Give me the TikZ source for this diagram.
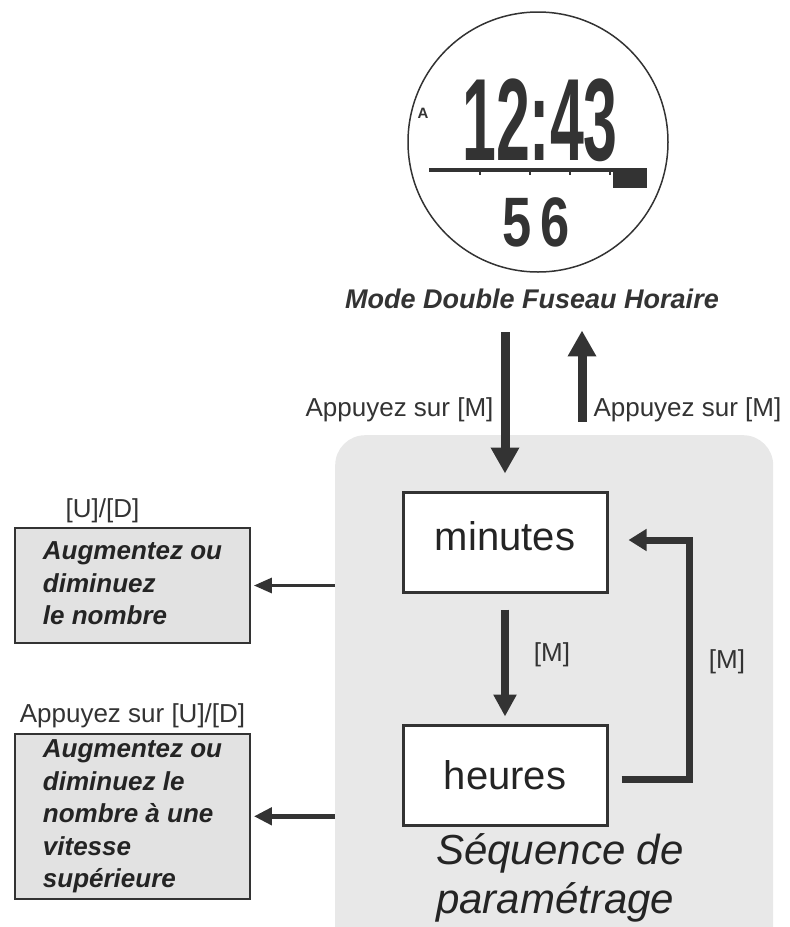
\documentclass[tikz,border=0pt]{standalone}
\usepackage{fontspec}
\setmainfont{Liberation Sans}
\usetikzlibrary{positioning, arrows.meta}
\definecolor{ink}{HTML}{333333}
\definecolor{panelgrey}{HTML}{E8E8E8}
\definecolor{boxgrey}{HTML}{E2E2E2}
\tikzset{x=1pt, y=-1pt, % one unit is one pixel of the picture
	statebox/.style={draw=ink, line width=3pt, fill=white, minimum width=204pt, minimum height=100pt, text=ink!70!black, font=\fontsize{40}{44}\selectfont}, % the two setting steps
	greybox/.style={draw=ink, line width=1.8pt, fill=boxgrey, minimum width=235pt, align=left, text=ink!70!black, font=\fontsize{26}{32.5}\selectfont\bfseries\itshape}, % what the buttons do
	lbl/.style={font=\fontsize{26}{30}\selectfont, text=ink}, % button labels
	fatarrow/.style={-{Triangle[width=27pt,length=26pt]}, line width=9pt, draw=ink},
	midarrow/.style={-{Triangle[width=22pt,length=22pt]}, line width=8pt, draw=ink},
	looparrow/.style={-{Triangle[width=21pt,length=18pt]}, line width=7pt, draw=ink},
	sidearrow/.style={-{Triangle[width=15pt,length=18pt]}, line width=3pt, draw=ink},
}

\begin{document}
\begin{tikzpicture}
	\useasboundingbox (0,0) rectangle (790,927);
	% grey background of the setting sequence
	\node[fill=panelgrey, rounded corners=30pt, minimum width=438pt, minimum height=530pt, inner sep=0pt, anchor=north west] (Panel) at (335,435) {};
	% the watch face
	\node[circle, draw=ink, line width=1.5pt, minimum size=260pt] (Watch) at (538,142) {};
	\node[text=ink, font=\fontsize{117}{117}\selectfont\bfseries, xscale=0.52] (Time) at (540,120) {12:43};
	\node[text=ink, font=\fontsize{15}{15}\selectfont\bfseries] (Alarm) at (423,113) {A};
	\draw[ink, line width=4pt] (429,170) -- (647,170);
	\fill[ink] (613,168) rectangle (647,188);
	\foreach \x in {480,530,570,610}
		\draw[ink, line width=1.2pt] (\x,170) -- (\x,175);
	\node[text=ink, font=\fontsize{70}{70}\selectfont\bfseries, xscale=0.75] (Seconds) at (536,222) {5\kern12pt 6};
	\node[text=ink, font=\fontsize{27}{30}\selectfont\bfseries\itshape] (ModeLabel) at (532,299) {Mode Double Fuseau Horaire};

	%% the two steps
	\node[statebox] (Minutes) at (505,542) {\raisebox{12pt}{minutes}};
	\node[statebox, below=130pt of Minutes] (Heures) {heures};
	\node[text=ink!70!black, font=\fontsize{42}{49}\selectfont\itshape, align=left] (Sequence) at (560,878) {Séquence de\\paramétrage};

	%% into and out of the setting
	\draw[fatarrow] ([yshift=-20pt]ModeLabel.south -| Minutes.north) -- ([yshift=17pt]Minutes.north);
	\draw[fatarrow] ([xshift=77pt,yshift=69pt]Minutes.north) -- ([xshift=77pt,yshift=-18pt]ModeLabel.south -| Minutes.north);
	\node[lbl, anchor=east] (PressIn) at (497,410) {Appuyez sur [M]};
	\node[lbl, anchor=west] (PressOut) at (590,410) {Appuyez sur [M]};

	%% going round the steps
	\draw[midarrow] ([yshift=-16pt]Minutes.south) -- ([yshift=7pt]Heures.north);
	\node[lbl] (NextM) at (552,655) {[M]};
	\draw[looparrow] ([xshift=13pt,yshift=-4pt]Heures.east) -- ++(68,0) |- ([xshift=20pt,yshift=2pt]Minutes.east);
	\node[lbl] (BackM) at (727,662) {[M]};

	%% the buttons
	\node[greybox, minimum height=115pt] (Augmente) at (132.5,585.5) {\raisebox{5pt}{\begin{tabular}{@{}l@{}}Augmentez ou\\diminuez\\le nombre\end{tabular}}};
	\node[greybox, minimum height=165pt, below=89pt of Augmente] (AugmenteVite) {Augmentez ou\\diminuez le\\nombre à une\\vitesse\\supérieure};
	\node[lbl, above right=1pt and 48pt of Augmente.north west] (PressUD) {[U]/[D]};
	\node[lbl, above=1pt of AugmenteVite] (HoldUD) {Appuyez sur [U]/[D]};
	\draw[sidearrow] (Panel.west |- Augmente.east) -- ([xshift=3pt]Augmente.east);
	\draw[sidearrow, line width=5pt, -{Triangle[width=17pt,length=18pt]}] (Panel.west |- AugmenteVite.east) -- ([xshift=3pt]AugmenteVite.east);
\end{tikzpicture}
\end{document}
